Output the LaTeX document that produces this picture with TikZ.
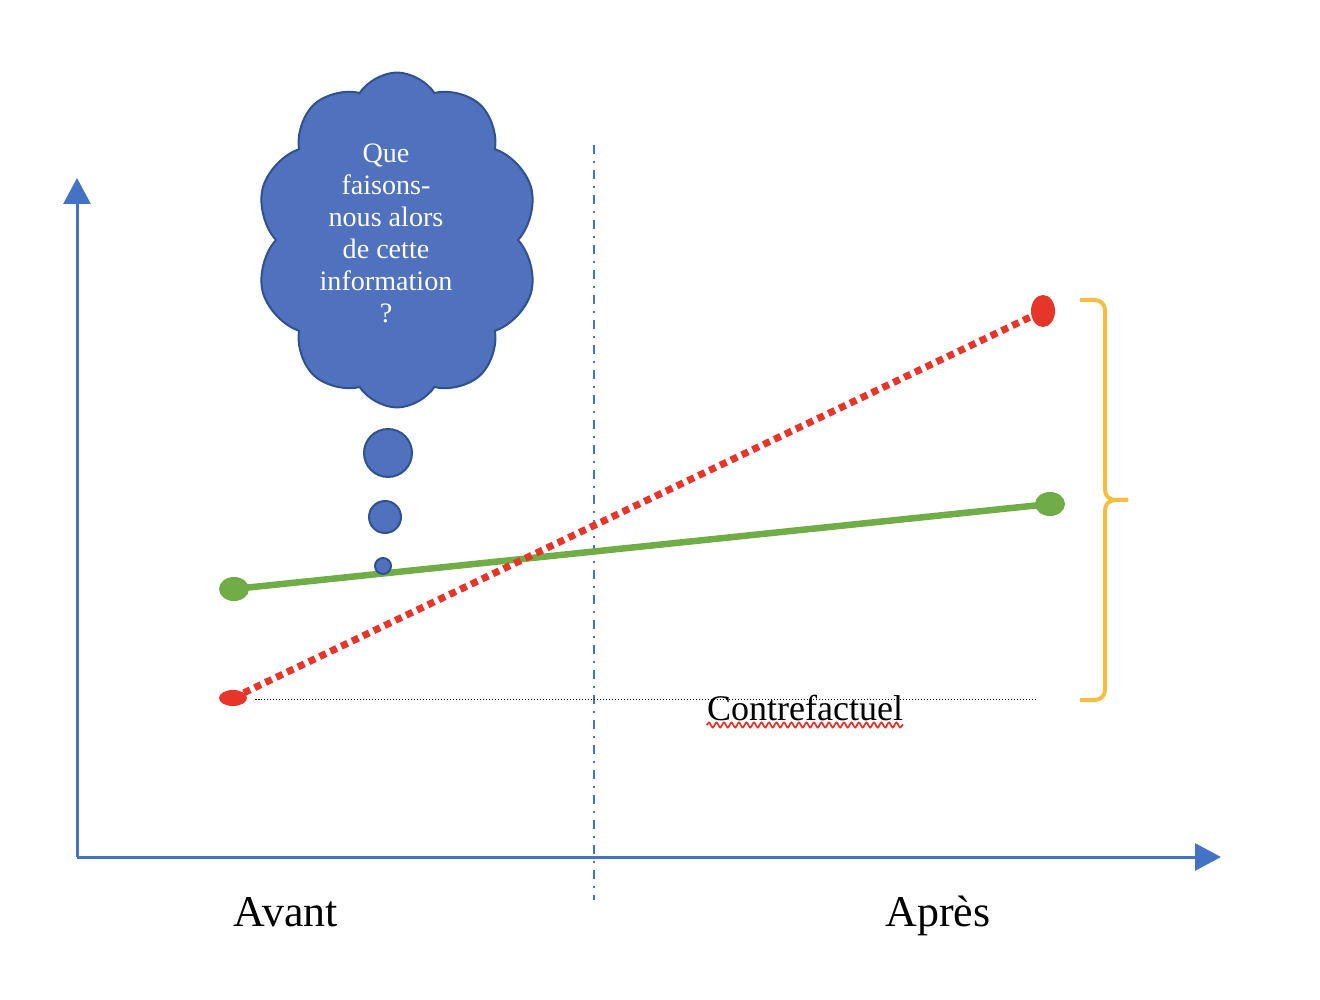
\documentclass[tikz,border=0pt]{standalone}
\usepackage{fontspec}
\setmainfont{Liberation Serif}
\usetikzlibrary{arrows.meta,shapes.symbols,shapes.geometric,decorations.pathmorphing,calc}
\definecolor{axblue}{HTML}{4472C4}
\definecolor{cloudblue}{HTML}{4F71BE}
\definecolor{cloudedge}{HTML}{2F528F}
\definecolor{dgreen}{HTML}{70AD47}
\definecolor{dred}{HTML}{E8352A}
\definecolor{gold}{HTML}{F4BE41}
\tikzset{
  axis/.style={axblue,line width=0.06cm,-{Triangle[length=0.52cm,width=0.54cm]}},
  cut/.style={axblue,line width=0.05cm,dash pattern=on 0.18cm off 0.14cm on 0.04cm off 0.14cm},
  gdot/.style={ellipse,fill=dgreen,inner sep=0pt,minimum width=0.6cm,minimum height=0.48cm},
  rdot/.style={ellipse,fill=dred,inner sep=0pt},
  bubble/.style={circle,fill=cloudblue,draw=cloudedge,line width=0.04cm,inner sep=0pt},
  brace/.style={gold,line width=0.08cm,rounded corners=0.2cm},
  period/.style={font=\fontsize{25}{30}\selectfont,inner sep=0pt,anchor=base}
}
\newcommand{\bub}[4]{\node[bubble,minimum size=#4] (#1) at (#2,#3) {};}

\begin{document}
\begin{tikzpicture}[x=0.02cm,y=-0.02cm]
\useasboundingbox (0,0) rectangle (1320,1000);

% axes
\coordinate (O) at (77,857);
\coordinate (ytip) at (77,178);
\coordinate (xtip) at (1221,857);
\draw[axis] (O) -- (ytip);
\draw[axis] (O) -- (xtip);

% before / after cut
\coordinate (cuttop) at (594,145);
\coordinate (cutbot) at (594,900);
\draw[cut] (cuttop) -- (cutbot);

% counterfactual level
\coordinate (cfl) at (255,699);
\coordinate (cfr) at (1035,699);
\draw[line width=0.02cm,dash pattern=on 0.03cm off 0.03cm] (cfl) -- (cfr);
\node[font=\fontsize{20.5}{24}\selectfont,inner sep=0pt,anchor=base] (cf) at (805,720) {Contrefactuel};
\draw[dred,line width=0.035cm,decorate,decoration={snake,amplitude=0.05cm,segment length=0.15cm}]
  ($(cf.base west)+(0,5)$) -- ($(cf.base east)+(0,5)$);

% green
\node[gdot] (g1) at (234,589) {};
\node[gdot] (g2) at (1050,504) {};
\draw[dgreen,line width=0.13cm] (g1.center) -- (g2.center);

% red
\node[rdot,minimum width=0.56cm,minimum height=0.32cm] (r1) at (233,698) {};
\node[rdot,minimum width=0.48cm,minimum height=0.64cm] (r2) at (1043,311) {};
\draw[dred,line width=0.14cm,dash pattern=on 0.14cm off 0.1cm] (r1.center) -- (r2.center);

% brace
\coordinate (brtop) at (1080,300);
\coordinate (brbot) at (1080,700);
\coordinate (brmid) at (1105,500);
\coordinate (brtip) at (1128,500);
\draw[brace] (brtop) -| (brmid) -- (brtip);
\draw[brace] (brtip) -- (brmid) |- (brbot);

% thought
\node[cloud,cloud puffs=10,cloud puff arc=115,cloud ignores aspect,
      minimum width=5.65cm,minimum height=6.7cm,
      fill=cloudblue,draw=cloudedge,line width=0.04cm] (thought) at (397,240) {};
\node[text=white,align=center,inner sep=0pt,font=\fontsize{16}{18.2}\selectfont] (thoughttxt) at (386,233)
  {Que\\faisons-\\nous alors\\de cette\\information\\?};
\bub{b1}{388}{453}{0.96cm}
\bub{b2}{385}{517}{0.64cm}
\bub{b3}{383}{566}{0.32cm}

% periods
\node[period] (avant) at (286,926) {Avant};
\node[period] (apres) at (938,926) {Après};
\end{tikzpicture}
\end{document}
